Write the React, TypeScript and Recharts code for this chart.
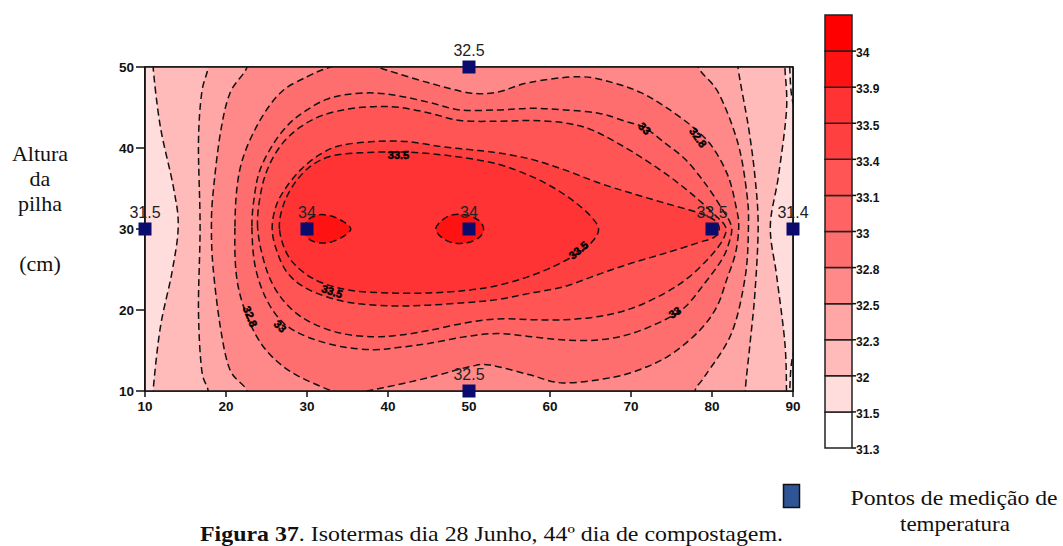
import React from 'react';
import { ScatterChart, Scatter, XAxis, YAxis, BarChart, Bar } from 'recharts';

const SANS = "'Liberation Sans', Arial, sans-serif";
const SERIF = "'Liberation Serif', 'Times New Roman', serif";

type XY = [number, number];

// axis ticks
const xTicks = [10, 20, 30, 40, 50, 60, 70, 80, 90];
const yTicks = [10, 20, 30, 40, 50];

// measurement points (x, y, temperature label)
const measurePoints = [
  { x: 10, y: 30, t: '31.5' },
  { x: 30, y: 30, t: '34' },
  { x: 50, y: 30, t: '34' },
  { x: 80, y: 30, t: '33.5' },
  { x: 90, y: 30, t: '31.4' },
  { x: 50, y: 50, t: '32.5' },
  { x: 50, y: 10, t: '32.5' },
];

// colour scale (bottom -> top)
const scaleLabels = ['31.3', '31.5', '32', '32.3', '32.5', '32.8', '33', '33.1', '33.4', '33.5', '33.9', '34'];
const scaleColors = ['#FFFFFF', '#FFDDDD', '#FFBABA', '#FFA6A6', '#FF8989', '#FF6E6E', '#FF6363', '#FF5555', '#FF4040', '#FF3333', '#FF1212', '#FF0000'];

// isotherm polygons (data coordinates), outer to inner
const plotBackground: XY[] = [[0, 0], [100, 0], [100, 60], [0, 60]];
const iso32: XY[] = [[11, 58], [11, 53], [11, 50], [11.9, 42.6], [13.5, 35.2], [14.1, 30.3], [13.3, 24.5], [11.9, 17.9], [11, 10], [11, 7], [11, 2], [50, 2], [89.2, 2], [89.2, 7], [89.2, 10], [89, 15.9], [88, 24.1], [87.2, 30.3], [88.2, 36.5], [89.2, 44.7], [89, 50], [89, 53], [89, 58], [50, 58]];
const iso323: XY[] = [[17.8, 58], [17.8, 53], [17.8, 50], [17, 46.8], [16.6, 40.6], [16.8, 30.3], [16.6, 20], [17, 12.6], [17.8, 10], [17.8, 7], [17.8, 2], [50, 2], [84.1, 2], [84.1, 7], [84.1, 10], [84.7, 15.9], [85.3, 22.1], [85.7, 30.3], [85.3, 36.5], [84.5, 42.6], [83.2, 50], [83.2, 53], [83.2, 58], [50, 58]];
const iso325: XY[] = [[22.6, 58], [22.6, 53], [22.6, 50], [20.5, 46.8], [19.3, 41.8], [18.4, 34.4], [18.2, 30.3], [18.4, 25.3], [19.3, 17.9], [20.5, 12.6], [22.6, 10], [22.6, 7], [22.6, 2], [50, 2], [77.9, 2], [77.9, 7], [77.9, 10], [79.1, 11.8], [82.4, 17.1], [84.1, 24.1], [84.5, 30.3], [84.3, 34.4], [83.2, 40.6], [80.8, 46.8], [78.3, 50], [78.3, 53], [78.3, 58], [50, 58]];
const iso328: XY[] = [[21.1, 30.3], [21.7, 37.3], [23.8, 42.7], [26.7, 46.8], [30, 48.8], [32.6, 49.9], [35.3, 50.5], [37.8, 50.3], [39.9, 49.6], [45.2, 48], [50.1, 46.8], [53.5, 46.9], [57.5, 48.1], [63.7, 48.8], [68, 48], [71.3, 46.8], [74.2, 45.1], [77.5, 42.7], [80, 40.2], [82, 36.5], [83, 32.6], [83.3, 30.3], [82.9, 27], [81.8, 23.7], [80.6, 20.4], [78.5, 17.5], [75.2, 14.7], [72, 13], [67.8, 11.7], [61.6, 11], [57.5, 12], [52.6, 13.2], [50.1, 13], [45.2, 11.7], [39.4, 10.4], [35, 9.7], [31.6, 10.6], [27.1, 13], [23.8, 16.7], [21.5, 22.9]];
const iso33: XY[] = [[23.2, 30.3], [23.5, 34], [24.2, 37.3], [25.9, 40.6], [27.9, 43.1], [30, 44.7], [32.4, 46], [34.9, 46.6], [38.2, 46.8], [41.5, 46.4], [45.2, 45.6], [48.9, 44.7], [53.6, 44.7], [57.7, 44.9], [61.8, 44.7], [66, 44.3], [69.3, 43.3], [71.7, 42.5], [74.2, 40.6], [76.7, 38.6], [79.1, 35.7], [81.3, 32.4], [82.4, 30.3], [82.1, 28.3], [81.2, 26.2], [79.1, 23.3], [76.7, 20.4], [74.2, 18.8], [70.1, 17.1], [66, 16.3], [61.8, 16.3], [57.7, 16.7], [53.6, 17.1], [49.5, 16.7], [45.2, 15.9], [41.5, 15.4], [38.2, 15.1], [34.1, 15.5], [30, 16.7], [27.1, 18.4], [25, 21.3], [23.6, 25.4]];
const iso331: XY[] = [[23.9, 30.2], [24.3, 34.5], [25.3, 37.8], [27, 40.6], [29.2, 42.6], [31.8, 44], [35, 44.8], [38.2, 45.1], [41.5, 45], [45.2, 44.3], [48.9, 43.4], [53.6, 43.3], [57.7, 43.4], [61.8, 43.1], [65, 42.3], [68, 40.8], [71.5, 38.7], [75, 36.3], [78, 33.9], [80.5, 31.6], [81.7, 30.2], [81.3, 28.6], [79.7, 26.5], [77.2, 24.1], [74.2, 22.1], [70.1, 20.2], [66, 19.2], [61.8, 18.8], [57.7, 18.8], [53.6, 18.9], [49.5, 18.4], [45.2, 17.5], [41.5, 16.9], [38.2, 16.7], [34.3, 17.1], [30.8, 18.3], [28.2, 20], [26.2, 22.4], [24.8, 25.6]];
const iso334: XY[] = [[25.7, 29.9], [26.1, 32.6], [27.2, 34.8], [29.2, 37.3], [31.6, 39.2], [34.1, 40.3], [38.2, 40.8], [42.3, 40.8], [46.4, 40.2], [50, 39.8], [53.6, 39.4], [57.7, 38.6], [61.8, 37.3], [66, 35.7], [70.1, 34.4], [74.2, 33.2], [78.3, 32], [80.3, 31.1], [80.9, 30], [80.3, 29], [78.3, 28.3], [74.2, 27], [70.1, 25.8], [66, 24.4], [61.8, 22.9], [57.7, 22.1], [53.6, 21.3], [49.5, 20.9], [45, 20.6], [40.7, 20.5], [36, 20.8], [32.5, 21.6], [29.5, 22.9], [27.5, 24.7], [26.3, 27.2]];
const iso335: XY[] = [[26.6, 30], [27.1, 33], [28.5, 35.7], [30.5, 37.8], [33, 39], [36.5, 39.4], [42, 39.5], [48, 39], [53.6, 38], [57.7, 36.5], [60.6, 35], [63.1, 33.3], [65.1, 31.5], [66, 29.9], [65, 28.2], [63.1, 26.8], [60.5, 25.4], [57, 24], [53, 22.9], [49.5, 22.4], [45, 22.1], [40, 22.1], [35.5, 22.4], [32, 23.3], [29.5, 24.7], [27.6, 26.8]];
const iso339a: XY[] = [[29.7, 30], [30.2, 31.2], [31.5, 31.75], [33, 31.6], [34.5, 30.9], [35.4, 30], [34.5, 29.1], [33, 28.4], [31.5, 28.3], [30.2, 28.8]];
const iso339b: XY[] = [[45.9, 30], [46.7, 31.1], [48, 31.75], [49.8, 31.7], [51.3, 31], [51.8, 30], [51.3, 29], [49.8, 28.3], [48, 28.3], [46.7, 28.9]];
const iso315: XY[] = [[89.6, 58], [89.6, 53], [89.6, 50], [89.9, 46], [91, 42], [92.5, 30], [91, 18], [89.9, 14], [89.6, 10], [89.6, 7], [89.6, 2], [97, 2], [97, 58]];
const plotFrame: XY[] = [[10, 10], [90, 10], [90, 50], [10, 50]];

// isotherm labels
const isoLabels = [
  { x: 41.3, y: 39.1, t: '33.5', a: 0 },
  { x: 33.1, y: 22.3, t: '33.5', a: 18 },
  { x: 63.5, y: 27.4, t: '33.5', a: -40 },
  { x: 23, y: 19.2, t: '32.8', a: 68 },
  { x: 26.7, y: 18.0, t: '33', a: 45 },
  { x: 71.7, y: 42.4, t: '33', a: 45 },
  { x: 78.3, y: 41.3, t: '32.8', a: 55 },
  { x: 75.4, y: 19.7, t: '33', a: -32 },
];

const toPts = (a: XY[]) => a.map(([x, y]) => ({ x, y }));

function smoothClosed(pts: { x: number; y: number }[]) {
  const n = pts.length;
  let d = `M${pts[0].x},${pts[0].y}`;
  for (let i = 0; i < n; i++) {
    const p0 = pts[(i - 1 + n) % n];
    const p1 = pts[i];
    const p2 = pts[(i + 1) % n];
    const p3 = pts[(i + 2) % n];
    const c1x = p1.x + (p2.x - p0.x) / 6;
    const c1y = p1.y + (p2.y - p0.y) / 6;
    const c2x = p2.x - (p3.x - p1.x) / 6;
    const c2y = p2.y - (p3.y - p1.y) / 6;
    d += `C${c1x},${c1y} ${c2x},${c2y} ${p2.x},${p2.y}`;
  }
  return d + 'Z';
}

const contourLine = (fill: string, dashed: boolean) => (props: any) => {
  const pts = (props.points || []).filter((p: any) => p && p.x != null && p.y != null);
  if (pts.length < 3) return <g />;
  return (
    <path
      d={smoothClosed(pts)}
      fill={fill}
      stroke={dashed ? '#111' : 'none'}
      strokeWidth={1.5}
      strokeDasharray="7 4"
    />
  );
};

const frameLine = (props: any) => {
  const pts = (props.points || []).filter((p: any) => p && p.x != null);
  if (pts.length < 3) return <g />;
  const d = 'M' + pts.map((p: any) => `${p.x},${p.y}`).join('L') + 'Z';
  return <path d={d} fill="none" stroke="#111" strokeWidth={1.7} />;
};

const noShape = () => <g />;

const PointShape = (p: any) => (
  <g>
    <rect x={p.cx - 6.5} y={p.cy - 6.5} width={13} height={13} fill="#0B0B6E" />
    <text x={p.cx} y={p.cy - 11} textAnchor="middle" fontSize={16} fontFamily={SANS} fill="#222">
      {p.payload.t}
    </text>
  </g>
);

const IsoLabelShape = (p: any) => (
  <text
    x={p.cx}
    y={p.cy}
    transform={`rotate(${p.payload.a} ${p.cx} ${p.cy})`}
    textAnchor="middle"
    dominantBaseline="central"
    fontSize={11}
    fontWeight="bold"
    fontFamily={SANS}
    fill="#000"
    stroke="#000"
    strokeWidth={0.5}
  >
    {p.payload.t}
  </text>
);

const isotherms: { pts: XY[]; fill: string; dashed: boolean }[] = [
  { pts: plotBackground, fill: scaleColors[1], dashed: false },
  { pts: iso32, fill: scaleColors[2], dashed: true },
  { pts: iso323, fill: scaleColors[3], dashed: true },
  { pts: iso325, fill: scaleColors[4], dashed: true },
  { pts: iso328, fill: scaleColors[5], dashed: true },
  { pts: iso33, fill: scaleColors[6], dashed: true },
  { pts: iso331, fill: scaleColors[7], dashed: true },
  { pts: iso334, fill: scaleColors[8], dashed: true },
  { pts: iso335, fill: scaleColors[9], dashed: true },
  { pts: iso339a, fill: scaleColors[10], dashed: true },
  { pts: iso339b, fill: scaleColors[10], dashed: true },
  { pts: iso315, fill: 'none', dashed: true },
];

const scaleRow: Record<string, number | string> = { name: 'escala' };
scaleColors.forEach((_, i) => {
  scaleRow['b' + i] = 1;
});
const scaleData = [scaleRow];

const tickStyle = { fontSize: 13.5, fill: '#111', fontFamily: SANS, fontWeight: 'bold' as const };

export default function App() {
  return (
    <div style={{ position: 'absolute', left: 0, top: 0, width: 1063, height: 546, background: '#fff' }}>
      <div style={{ position: 'absolute', left: 0, top: 0 }}>
        <ScatterChart width={1063} height={546} margin={{ top: 57, right: 260, bottom: 135, left: 115 }}>
          <XAxis
            xAxisId="b"
            dataKey="x"
            type="number"
            domain={[10, 90]}
            ticks={xTicks}
            interval={0}
            allowDataOverflow
            height={20}
            tickSize={6}
            tickMargin={4}
            axisLine={{ stroke: '#111', strokeWidth: 1.7 }}
            tickLine={{ stroke: '#111', strokeWidth: 1.5 }}
            tick={tickStyle}
          />
          <XAxis
            xAxisId="t"
            dataKey="x"
            type="number"
            orientation="top"
            domain={[10, 90]}
            ticks={xTicks}
            interval={0}
            height={10}
            tickSize={7}
            tick={false}
            axisLine={{ stroke: '#111', strokeWidth: 1.7 }}
            tickLine={{ stroke: '#111', strokeWidth: 1.5 }}
          />
          <YAxis
            yAxisId="l"
            dataKey="y"
            type="number"
            domain={[10, 50]}
            ticks={yTicks}
            interval={0}
            allowDataOverflow
            width={30}
            tickSize={9}
            tickMargin={2}
            axisLine={{ stroke: '#111', strokeWidth: 1.7 }}
            tickLine={{ stroke: '#111', strokeWidth: 1.5 }}
            tick={tickStyle}
          />
          <YAxis
            yAxisId="r"
            dataKey="y"
            type="number"
            orientation="right"
            domain={[10, 50]}
            ticks={yTicks}
            interval={0}
            width={10}
            tickSize={7}
            tick={false}
            axisLine={{ stroke: '#111', strokeWidth: 1.7 }}
            tickLine={{ stroke: '#111', strokeWidth: 1.5 }}
          />
          {isotherms.map((iso, i) => (
            <Scatter
              key={'iso' + i}
              xAxisId="b"
              yAxisId="l"
              data={toPts(iso.pts)}
              shape={noShape}
              line={contourLine(iso.fill, iso.dashed)}
              lineType="joint"
              isAnimationActive={false}
            />
          ))}
          <Scatter
            xAxisId="t"
            yAxisId="r"
            data={toPts(plotFrame)}
            shape={noShape}
            line={frameLine}
            lineType="joint"
            isAnimationActive={false}
          />
          <Scatter xAxisId="t" yAxisId="r" data={isoLabels} shape={IsoLabelShape} isAnimationActive={false} />
          <Scatter xAxisId="t" yAxisId="r" data={measurePoints} shape={PointShape} isAnimationActive={false} />
        </ScatterChart>
      </div>

      <div style={{ position: 'absolute', left: 800, top: 0 }}>
        <BarChart width={110} height={460} data={scaleData} barCategoryGap={0} margin={{ top: 15, right: 0, bottom: 12, left: 25 }}>
          <XAxis dataKey="name" type="category" hide />
          <YAxis
            type="number"
            orientation="right"
            domain={[0, 12]}
            ticks={scaleLabels.map((_, i) => i)}
            interval={0}
            tickFormatter={(v: number) => scaleLabels[v] ?? ''}
            width={58}
            axisLine={false}
            tickSize={4}
            tickMargin={0}
            tickLine={{ stroke: '#111', strokeWidth: 1.5 }}
            tick={{ fontSize: 12, fill: '#111', fontFamily: SANS, fontWeight: 'bold', dy: 2 }}
          />
          {scaleColors.map((c, i) => (
            <Bar
              key={'b' + i}
              dataKey={'b' + i}
              stackId="s"
              fill={c}
              stroke="#222"
              strokeWidth={1.5}
              isAnimationActive={false}
            />
          ))}
        </BarChart>
      </div>

      <svg width={1063} height={546} style={{ position: 'absolute', left: 0, top: 0, pointerEvents: 'none' }}>
        <g fontFamily={SERIF} fontSize={22} fill="#111" textAnchor="middle">
          <text x={40} y={161}>Altura</text>
          <text x={40} y={186}>da</text>
          <text x={40} y={211}>pilha</text>
          <text x={40} y={271}>(cm)</text>
        </g>
        <rect x={783.5} y={484.5} width={16} height={23} fill="#2F5597" stroke="#111" strokeWidth={1.5} />
        <g fontFamily={SERIF} fontSize={21} fill="#111">
          <text x={954} y={505} textAnchor="middle" textLength={207} lengthAdjust="spacingAndGlyphs">Pontos de medição de</text>
          <text x={955} y={531} textAnchor="middle" textLength={110} lengthAdjust="spacingAndGlyphs">temperatura</text>
          <text x={200} y={541} textLength={583} lengthAdjust="spacingAndGlyphs">
            <tspan fontWeight="bold">Figura 37</tspan>. Isotermas dia 28 Junho, 44º dia de compostagem.
          </text>
        </g>
      </svg>
    </div>
  );
}
